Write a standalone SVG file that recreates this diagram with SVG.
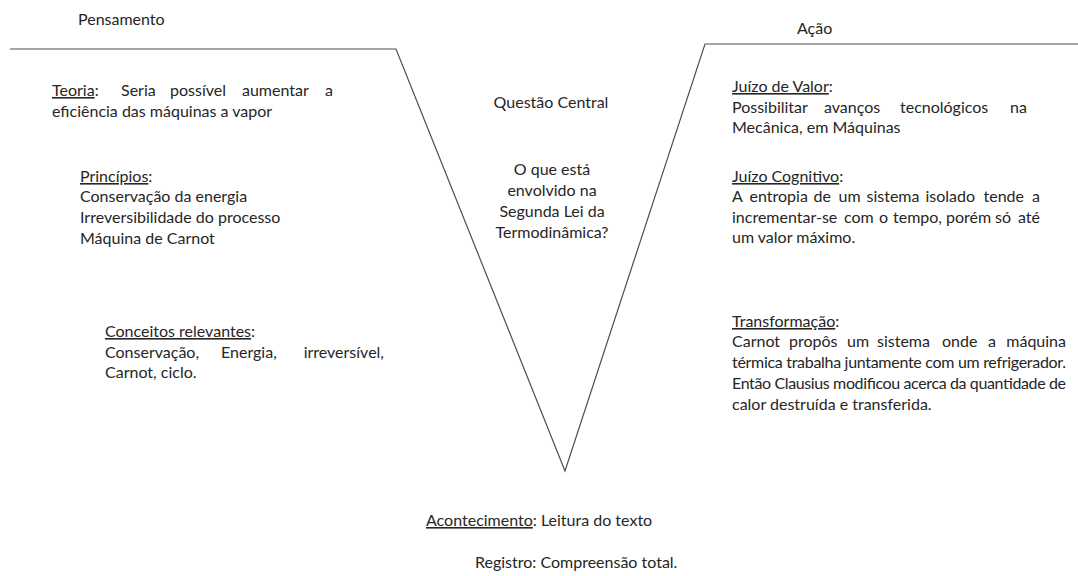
<svg xmlns="http://www.w3.org/2000/svg" width="1078" height="576" viewBox="0 0 1078 576">
  <style>
    text { font-family: Lato, "Open Sans", "Liberation Sans", sans-serif; font-size: 16px; fill: #262626; }
    .u { text-decoration: underline; }
    .mid { text-anchor: middle; }
    .end { text-anchor: end; }
    .v { fill: none; stroke: #4d4d4d; stroke-width: 1.2; stroke-linejoin: miter; }
  </style>
  <rect width="1078" height="576" fill="#ffffff"/>

  <!-- V outline -->
  <g id="connectors">
    <polyline class="v" points="10,49 396,49 565,471 705,44 1078,44"/>
  </g>

  <g id="pensamento">
    <text x="78" y="25">Pensamento</text>
  </g>

  <g id="acao">
    <text x="797" y="34">Ação</text>
  </g>

  <g id="teoria">
    <text y="96"><tspan x="52" class="u">Teoria</tspan><tspan>:</tspan><tspan x="121">Seria</tspan><tspan x="170">possível</tspan><tspan x="242">aumentar</tspan></text>
    <text class="end" x="333" y="96">a</text>
    <text x="52" y="117">eficiência das máquinas a vapor</text>
  </g>

  <g id="principios">
    <text x="80" y="182"><tspan class="u">Princípios</tspan>:</text>
    <text x="80" y="202">Conservação da energia</text>
    <text x="80" y="223">Irreversibilidade do processo</text>
    <text x="80" y="244">Máquina de Carnot</text>
  </g>

  <g id="conceitos">
    <text x="105" y="337"><tspan class="u">Conceitos relevantes</tspan>:</text>
    <text y="358"><tspan x="105">Conservação,</tspan><tspan x="221">Energia,</tspan></text>
    <text class="end" x="384" y="358">irreversível,</text>
    <text x="105" y="378">Carnot, ciclo.</text>
  </g>

  <g id="questao-central">
    <text class="mid" x="551" y="108">Questão Central</text>
    <text class="mid" x="552" y="175">O que está</text>
    <text class="mid" x="552" y="196">envolvido na</text>
    <text class="mid" x="552" y="217">Segunda Lei da</text>
    <text class="mid" x="552" y="238">Termodinâmica?</text>
  </g>

  <g id="juizo-valor">
    <text x="732" y="92"><tspan class="u">Juízo de Valor</tspan>:</text>
    <text y="113"><tspan x="732">Possibilitar</tspan><tspan x="824">avanços</tspan><tspan x="900">tecnológicos</tspan></text>
    <text class="end" x="1027" y="113">na</text>
    <text x="732" y="133">Mecânica, em Máquinas</text>
  </g>

  <g id="juizo-cognitivo">
    <text x="732" y="182"><tspan class="u">Juízo Cognitivo</tspan>:</text>
    <text y="202"><tspan x="732">A</tspan><tspan x="749.5">entropia</tspan><tspan x="813.5">de</tspan><tspan x="838.5">um</tspan><tspan x="866.5">sistema</tspan><tspan x="925.5">isolado</tspan><tspan x="983.5">tende</tspan></text>
    <text class="end" x="1040" y="202">a</text>
    <text y="223"><tspan x="732">incrementar-se</tspan><tspan x="844">com</tspan><tspan x="879">o</tspan><tspan x="893">tempo,</tspan><tspan x="946">porém</tspan><tspan x="995">só</tspan></text>
    <text class="end" x="1040" y="223">até</text>
    <text x="732" y="243">um valor máximo.</text>
  </g>

  <g id="transformacao">
    <text x="732" y="327"><tspan class="u">Transformação</tspan>:</text>
    <text y="347"><tspan x="732">Carnot</tspan><tspan x="789">propôs</tspan><tspan x="847">um</tspan><tspan x="877">sistema</tspan><tspan x="942">onde</tspan><tspan x="988">a</tspan></text>
    <text class="end" x="1066" y="347">máquina</text>
    <text x="732" y="368" textLength="334" lengthAdjust="spacing">térmica trabalha juntamente com um refrigerador.</text>
    <text x="732" y="389" textLength="334" lengthAdjust="spacing">Então Clausius modificou acerca da quantidade de</text>
    <text x="732" y="410">calor destruída e transferida.</text>
  </g>

  <g id="acontecimento">
    <text x="426" y="526"><tspan class="u">Acontecimento</tspan>: Leitura do texto</text>
  </g>

  <g id="registro">
    <text x="475" y="568">Registro: Compreensão total.</text>
  </g>
</svg>
